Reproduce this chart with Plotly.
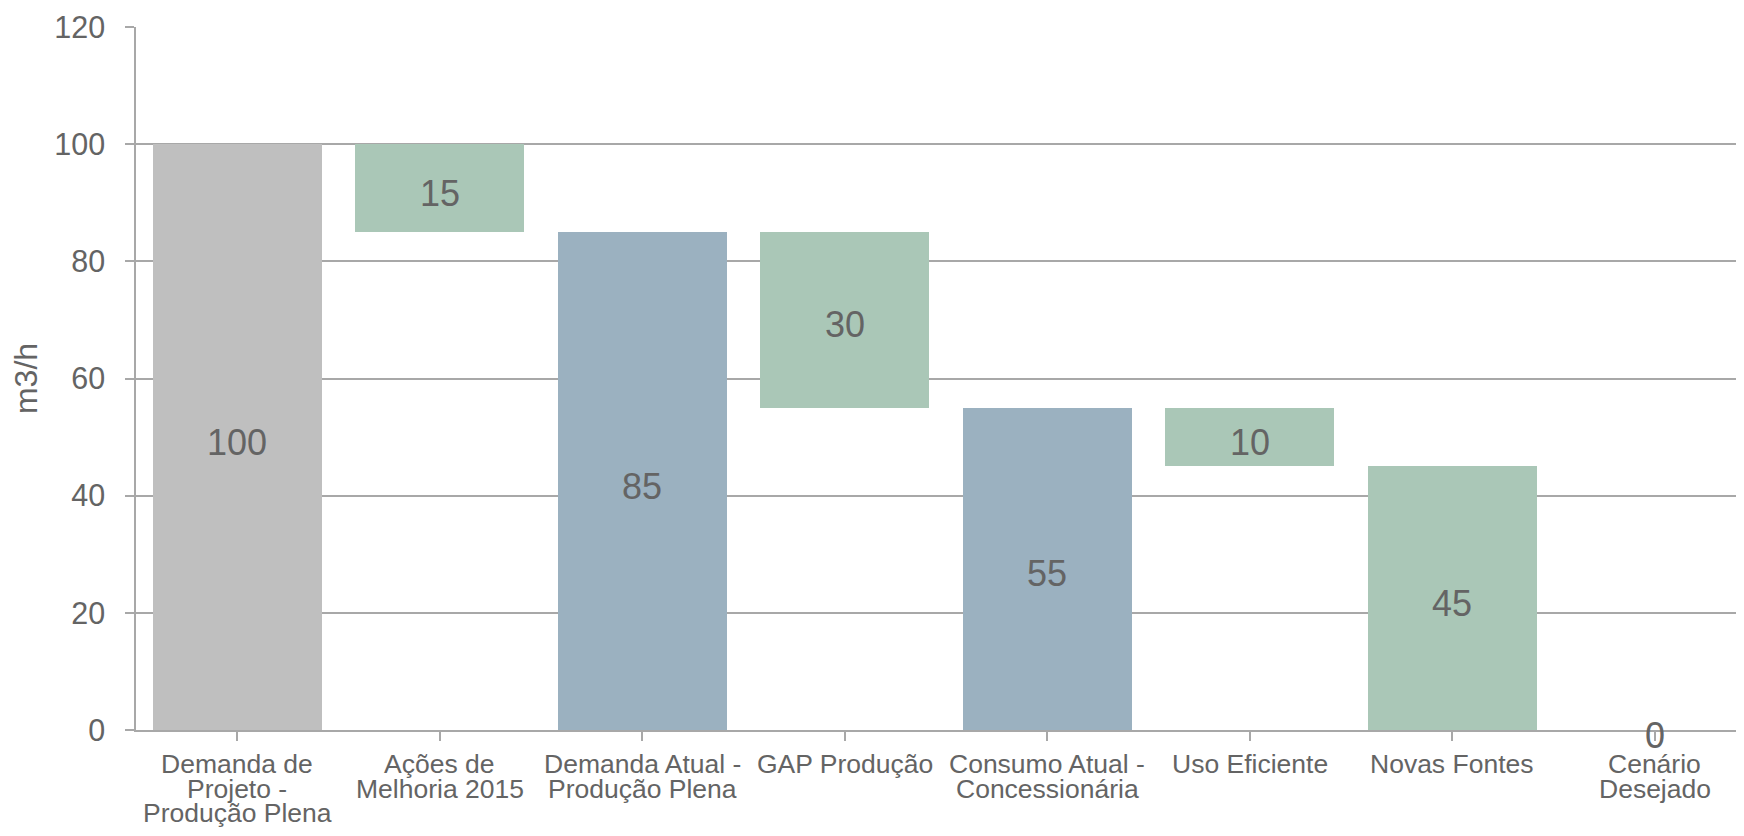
import plotly.graph_objects as go

categories = ["Demanda de Projeto - Produção Plena", "Ações de Melhoria 2015",
              "Demanda Atual - Produção Plena", "GAP Produção",
              "Consumo Atual - Concessionária", "Uso Eficiente",
              "Novas Fontes", "Cenário Desejado"]
category_lines = [["Demanda de", "Projeto -", "Produção Plena"],
                  ["Ações de", "Melhoria 2015"],
                  ["Demanda Atual -", "Produção Plena"],
                  ["GAP Produção"],
                  ["Consumo Atual -", "Concessionária"],
                  ["Uso Eficiente"],
                  ["Novas Fontes"],
                  ["Cenário", "Desejado"]]
values = [100, 15, 85, 30, 55, 10, 45, 0]
bases = [0, 85, 0, 55, 0, 45, 0, 0]
kinds = ["start", "step", "total", "step", "total", "step", "step", "total"]
y_ticks = [0, 20, 40, 60, 80, 100, 120]

colour_of = {"start": "#BFBFBF", "step": "#AAC7B7", "total": "#9BB1C0"}
bar_colours = [colour_of[k] for k in kinds]
TEXT = "#646464"
GRID = "#A8A8A8"
FONT = "Liberation Sans, Arial, sans-serif"

x_pos = list(range(len(categories)))

fig = go.Figure()
fig.add_trace(go.Bar(
    x=x_pos, y=values, base=bases, width=0.834,
    marker=dict(color=bar_colours, line=dict(width=0)),
    hoverinfo="skip", showlegend=False,
))

# value labels, centred in each bar
for i, (b, v) in enumerate(zip(bases, values)):
    fig.add_annotation(
        x=x_pos[i], xref="x", y=b + v / 2, yref="y",
        text=str(v), showarrow=False, xanchor="center", yanchor="middle",
        yshift=-5, font=dict(family=FONT, size=36, color=TEXT),
    )

# category labels, one annotation per line (tight line spacing)
for i, lines in enumerate(category_lines):
    for j, line in enumerate(lines):
        fig.add_annotation(
            x=x_pos[i], xref="x", y=0, yref="paper",
            text=line, showarrow=False, xanchor="center", yanchor="middle",
            yshift=-(34 + 24.5 * j),
            font=dict(family=FONT, size=26.5, color=TEXT),
        )

# page body has an 8px default margin: figure sized/margined to compensate
fig.update_layout(
    width=1736, height=828,
    margin=dict(l=128, r=0, t=19, b=106),
    paper_bgcolor="white", plot_bgcolor="white",
    bargap=0, barmode="overlay",
    font=dict(family=FONT, color=TEXT),
)
fig.update_xaxes(
    range=[-0.5, 7.44], tickvals=x_pos, ticktext=categories,
    showticklabels=False, tickson="boundaries", automargin=False,
    ticks="outside", ticklen=9, tickcolor=GRID, tickwidth=1.5,
    showline=True, linecolor=GRID, linewidth=1.5,
    showgrid=False, zeroline=False, fixedrange=True,
)
fig.update_yaxes(
    range=[0, 120], tickvals=y_ticks, automargin=False,
    ticks="outside", ticklen=9, tickcolor=GRID, tickwidth=1.5,
    ticklabelstandoff=14,
    tickfont=dict(family=FONT, size=30.5, color=TEXT),
    showline=True, linecolor=GRID, linewidth=1.5,
    showgrid=True, gridcolor=GRID, gridwidth=1.5, zeroline=False,
    title=dict(text="m3/h", font=dict(family=FONT, size=32, color=TEXT), standoff=16),
)

fig.write_html("out.html")
